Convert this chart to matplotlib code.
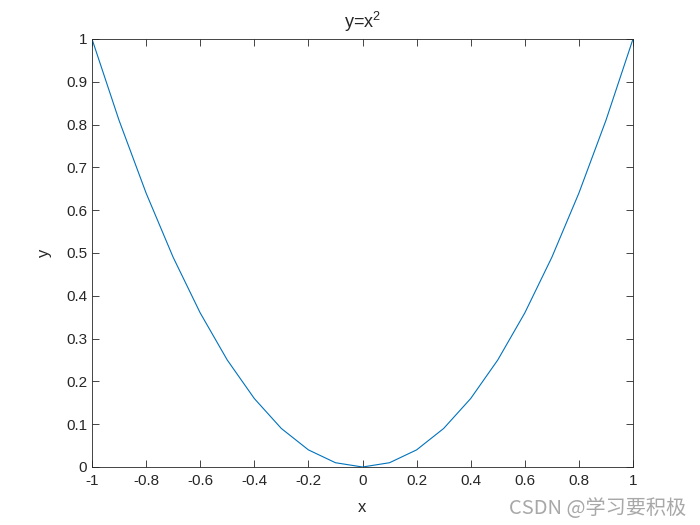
import matplotlib
matplotlib.use("Agg")
import matplotlib.pyplot as plt

x_vals = [-1.0, -0.9, -0.8, -0.7, -0.6, -0.5, -0.4, -0.3, -0.2, -0.1, 0.0,
          0.1, 0.2, 0.3, 0.4, 0.5, 0.6, 0.7, 0.8, 0.9, 1.0]
y_vals = [1.0, 0.81, 0.64, 0.49, 0.36, 0.25, 0.16, 0.09, 0.04, 0.01, 0.0,
          0.01, 0.04, 0.09, 0.16, 0.25, 0.36, 0.49, 0.64, 0.81, 1.0]
x_ticks = [-1, -0.8, -0.6, -0.4, -0.2, 0, 0.2, 0.4, 0.6, 0.8, 1]
x_tick_labels = ["-1", "-0.8", "-0.6", "-0.4", "-0.2", "0", "0.2", "0.4", "0.6", "0.8", "1"]
y_ticks = [0, 0.1, 0.2, 0.3, 0.4, 0.5, 0.6, 0.7, 0.8, 0.9, 1]
y_tick_labels = ["0", "0.1", "0.2", "0.3", "0.4", "0.5", "0.6", "0.7", "0.8", "0.9", "1"]

plt.rcParams['font.family'] = ['Liberation Sans', 'DejaVu Sans']
plt.rcParams['mathtext.fontset'] = 'custom'
plt.rcParams['mathtext.rm'] = 'Liberation Sans'
plt.rcParams['mathtext.it'] = 'Liberation Sans'
plt.rcParams['mathtext.default'] = 'regular'

fig = plt.figure(figsize=(7, 5.25), dpi=100)
ax = fig.add_axes([92/700, 1-467/525, (633-92)/700, (467-39)/525])
ax.plot(x_vals, y_vals, color='#0072BD', lw=0.8)
ax.set_xlim(-1, 1)
ax.set_ylim(0, 1)
ax.set_xticks(x_ticks)
ax.set_xticklabels(x_tick_labels)
ax.set_yticks(y_ticks)
ax.set_yticklabels(y_tick_labels)
ax.tick_params(direction='in', top=True, right=True, labelsize=11, length=5, width=0.6, colors='#262626')
ax.tick_params(axis='x', pad=5)
for s in ax.spines.values():
    s.set_linewidth(0.6)
    s.set_color('#262626')

ax.set_title(r'y=x$^{2}$', fontsize=13, color='#262626', pad=8)

ax.set_xlabel('x', fontsize=12, color='#262626', labelpad=9)
ax.set_ylabel('y', fontsize=12, color='#262626', labelpad=10)

fig.text(0.98, 0.012, 'CSDN @学习要积极', ha='right', va='bottom', fontsize=14.5,
         color='#a8a8a8', family=['Noto Sans CJK SC', 'DejaVu Sans'])

fig.savefig('out.png', dpi=100, facecolor='white')
